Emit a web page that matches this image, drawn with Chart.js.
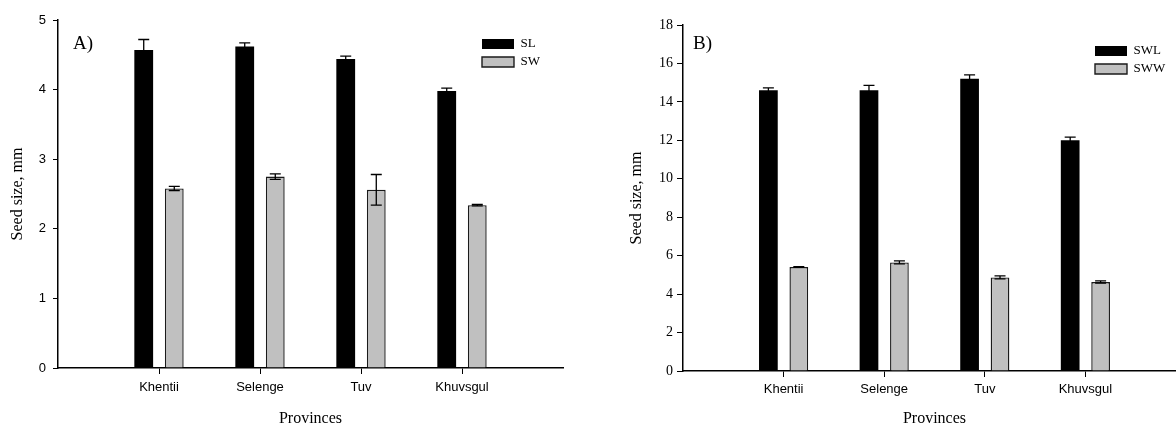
<!DOCTYPE html>
<html>
<head>
<meta charset="utf-8">
<script src="https://cdn.jsdelivr.net/npm/chart.js@4.4.1/dist/chart.umd.min.js"></script>
<style>
  html, body { margin: 0; padding: 0; background: #fff; overflow: hidden; }
  body { width: 1176px; height: 427px; position: relative; }
  canvas { position: absolute; top: 0; }
  #chartA { left: 0; }
  #chartB { left: 600px; }
</style>
</head>
<body>
<canvas id="chartA" width="600" height="427"></canvas>
<canvas id="chartB" width="600" height="427"></canvas>
<script>
const provinces = ["Khentii", "Selenge", "Tuv", "Khuvsgul"];

// panel A: seed length / width
const slMean = [4.57, 4.62, 4.44, 3.98];
const slErr = [0.15, 0.05, 0.04, 0.04];
const swMean = [2.58, 2.75, 2.56, 2.34];
const swErr = [0.03, 0.04, 0.22, 0.01];

// panel B: seed wing length / width
const swlMean = [14.6, 14.61, 15.2, 12.01];
const swlErr = [0.13, 0.25, 0.21, 0.16];
const swwMean = [5.41, 5.65, 4.87, 4.63];
const swwErr = [0.02, 0.08, 0.08, 0.06];

const serif = "'Liberation Serif', 'Times New Roman', serif";
const sans = "'Liberation Sans', Arial, sans-serif";

// error bars drawn from the bar elements and the y scale
const errorBars = {
  id: "errorBars",
  afterDatasetsDraw(chart) {
    const ctx = chart.ctx;
    const yScale = chart.scales.y;
    ctx.save();
    ctx.strokeStyle = "#000";
    ctx.lineWidth = 1.3;
    chart.data.datasets.forEach((ds, i) => {
      const meta = chart.getDatasetMeta(i);
      meta.data.forEach((bar, j) => {
        const v = ds.data[j].y;
        const e = ds.errors[j];
        const top = yScale.getPixelForValue(v + e);
        const bottom = yScale.getPixelForValue(v - e);
        const half = 5.5;
        ctx.beginPath();
        ctx.moveTo(bar.x, top);
        ctx.lineTo(bar.x, bottom);
        ctx.moveTo(bar.x - half, top);
        ctx.lineTo(bar.x + half, top);
        ctx.moveTo(bar.x - half, bottom);
        ctx.lineTo(bar.x + half, bottom);
        ctx.stroke();
      });
    });
    ctx.restore();
  }
};

// "A)" / "B)" panel letters
const panelLabel = {
  id: "panelLabel",
  afterDraw(chart, args, opts) {
    const area = chart.chartArea;
    const ctx = chart.ctx;
    ctx.save();
    ctx.fillStyle = "#000";
    ctx.font = "19px " + serif;
    ctx.textBaseline = "middle";
    ctx.fillText(opts.text, area.left + opts.dx, area.top + opts.dy);
    ctx.restore();
  }
};

// move the chartArea legend to the upper right corner
const legendPlace = {
  id: "legendPlace",
  afterLayout(chart, args, opts) {
    const area = chart.chartArea;
    chart.legend.left = area.right - opts.right;
    chart.legend.top = area.top + opts.top;
  }
};

function toPoints(values) {
  return values.map((v, i) => ({ x: i + 1, y: v }));
}

function createPanel(canvasId, cfg) {
  return new Chart(document.getElementById(canvasId), {
    type: "bar",
    data: {
      datasets: [
        {
          label: cfg.label1,
          data: toPoints(cfg.mean1),
          errors: cfg.err1,
          backgroundColor: "#000",
          borderColor: "#000",
          borderWidth: 0,
          barPercentage: 0.615,
          categoryPercentage: 0.605
        },
        {
          label: cfg.label2,
          data: toPoints(cfg.mean2),
          errors: cfg.err2,
          backgroundColor: "#c0c0c0",
          borderColor: "#1a1a1a",
          borderWidth: 1.4,
          barPercentage: 0.615,
          categoryPercentage: 0.605
        }
      ]
    },
    plugins: [errorBars, panelLabel, legendPlace],
    options: {
      responsive: false,
      animation: false,
      events: [],
      layout: {
        padding: { top: cfg.top, right: cfg.right, left: 0, bottom: 0 }
      },
      plugins: {
        tooltip: { enabled: false },
        legend: {
          position: "chartArea",
          align: "start",
          labels: {
            boxWidth: 32,
            boxHeight: 10,
            padding: 5,
            color: "#000",
            font: { family: serif, size: 13 }
          }
        },
        legendPlace: cfg.legend,
        panelLabel: cfg.panel
      },
      scales: {
        x: {
          type: "linear",
          min: 0,
          max: 5,
          offset: false,
          afterFit: scale => { scale.height = 427 - cfg.bottom; },
          afterBuildTicks: scale => {
            scale.ticks = provinces.map((p, i) => ({ value: i + 1 }));
          },
          ticks: {
            autoSkip: false,
            maxRotation: 0,
            padding: cfg.xPad,
            color: "#000",
            font: { family: sans, size: 13 },
            callback: v => provinces[v - 1]
          },
          grid: {
            offset: false,
            drawOnChartArea: false,
            drawTicks: true,
            tickLength: 6,
            color: "#000"
          },
          border: { display: true, color: "#000", width: 1.5 },
          title: {
            display: true,
            text: "Provinces",
            color: "#000",
            font: { family: serif, size: 16, lineHeight: 1 },
            padding: 0
          }
        },
        y: {
          min: 0,
          max: cfg.yMax,
          afterFit: scale => { scale.width = cfg.axisLeft; },
          ticks: {
            stepSize: cfg.yStep,
            padding: cfg.yPad,
            color: "#000",
            font: cfg.yFont
          },
          grid: {
            drawOnChartArea: false,
            drawTicks: true,
            tickLength: cfg.yTick,
            color: "#000"
          },
          border: { display: true, color: "#000", width: 1.5 },
          title: {
            display: true,
            text: "Seed size, mm",
            color: "#000",
            font: { family: serif, size: 16, lineHeight: 1 },
            padding: { top: cfg.titlePad, bottom: 0 }
          }
        }
      }
    }
  });
}

createPanel("chartA", {
  label1: "SL", label2: "SW",
  mean1: slMean, err1: slErr, mean2: swMean, err2: swErr,
  top: 20, right: 37, bottom: 368, axisLeft: 58,
  yMax: 5, yStep: 1, yPad: 7, yTick: 5, xPad: 6, titlePad: 10,
  yFont: { family: sans, size: 13 },
  legend: { right: 86, top: 12.5 },
  panel: { text: "A)", dx: 15, dy: 24 }
});

createPanel("chartB", {
  label1: "SWL", label2: "SWW",
  mean1: swlMean, err1: swlErr, mean2: swwMean, err2: swwErr,
  top: 25, right: 14, bottom: 371, axisLeft: 83,
  yMax: 18, yStep: 2, yPad: 4, yTick: 6, xPad: 5, titlePad: 29,
  yFont: { family: serif, size: 14 },
  legend: { right: 96, top: 14.5 },
  panel: { text: "B)", dx: 10, dy: 19 }
});
</script>
</body>
</html>
